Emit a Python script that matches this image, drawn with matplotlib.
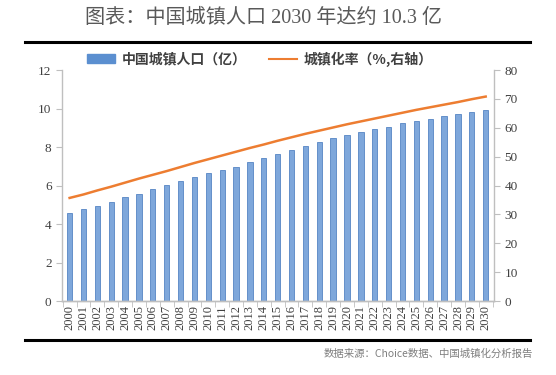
import matplotlib
matplotlib.use("Agg")
import matplotlib.pyplot as plt
from matplotlib.lines import Line2D
from matplotlib.patches import Patch
import numpy as np

# data
years = list(range(2000, 2031))
urban_pop = [4.56, 4.76, 4.95, 5.14, 5.39, 5.57, 5.80, 6.01, 6.25, 6.42,
             6.67, 6.79, 6.98, 7.22, 7.41, 7.64, 7.86, 8.05, 8.26, 8.45,
             8.62, 8.78, 8.94, 9.05, 9.25, 9.33, 9.47, 9.61, 9.71, 9.80, 9.91]
urban_rate = [35.7, 36.9, 38.3, 39.6, 41.0, 42.4, 43.7, 45.0, 46.4, 47.8,
              49.1, 50.4, 51.7, 53.0, 54.2, 55.5, 56.7, 57.9, 59.0, 60.1,
              61.2, 62.2, 63.2, 64.2, 65.2, 66.2, 67.1, 68.0, 68.9, 69.9, 70.8]
title = "图表：中国城镇人口 2030 年达约 10.3 亿"
bar_label = "中国城镇人口（亿）"
line_label = "城镇化率（%,右轴）"
source = "数据来源：Choice数据、中国城镇化分析报告"

serif = ["Liberation Serif", "Noto Sans CJK SC"]
cjk = ["Noto Sans CJK SC", "DejaVu Sans"]
gray = "#bfbfbf"
tick_c = "#404040"

fig = plt.figure(figsize=(5.56, 3.75), dpi=100)
ax = fig.add_axes([0.1115, 0.1973, 0.777, 0.616])
x = np.arange(len(years))
ax.bar(x, urban_pop, width=0.38, color="#7ea7db", edgecolor="#5585c4", linewidth=0.6, zorder=2)
ax.set_ylim(0, 12)
ax.set_yticks(range(0, 13, 2))
ax.set_xlim(-0.55, len(years) - 0.4)
ax.set_xticks(x)
ax.set_xticklabels([str(y) for y in years], rotation=90, fontsize=9, family=serif, color=tick_c)
ax.set_xticks(np.arange(-0.5, len(years), 1), minor=True)
ax.tick_params(axis="x", which="major", length=0, pad=3)
ax.tick_params(axis="x", which="minor", length=4, color=gray)
ax.tick_params(axis="y", length=4, color=gray, labelsize=9.5, labelcolor=tick_c)
for lab in ax.get_yticklabels():
    lab.set_family(serif)

ax2 = ax.twinx()
ax2.plot(x, urban_rate, color="#ed7d31", linewidth=1.8, zorder=3)
ax2.set_ylim(0, 80)
ax2.set_yticks(range(0, 81, 10))
ax2.tick_params(axis="y", length=4, color=gray, labelsize=9.5, labelcolor=tick_c)
for lab in ax2.get_yticklabels():
    lab.set_family(serif)

for a in (ax, ax2):
    a.spines["top"].set_visible(False)
    for s in ("left", "right", "bottom"):
        a.spines[s].set_color(gray)
        a.spines[s].set_linewidth(1.0)
ax.spines["right"].set_visible(False)
ax2.spines["left"].set_visible(False)

# title, rules, legend, source
fig.text(0.474, 0.950, title, ha="center", va="center", fontsize=14.5, family=serif, color="#595959")
fig.add_artist(Line2D([0.045, 0.953], [0.888, 0.888], color="black", linewidth=2.2))
fig.add_artist(Line2D([0.045, 0.953], [0.093, 0.093], color="black", linewidth=2.2))

handles = [Patch(facecolor="#5b8fd0", edgecolor="#5b8fd0"),
           Line2D([0], [0], color="#ed7d31", linewidth=1.5)]
fig.legend(handles, [bar_label, line_label], loc="center", bbox_to_anchor=(0.468, 0.843),
           ncol=2, frameon=False, prop={"family": cjk, "size": 10, "weight": "bold"},
           handlelength=2.0, handleheight=0.55, columnspacing=1.6, handletextpad=0.5,
           labelcolor="#404040")

fig.text(0.958, 0.056, source, ha="right", va="center", fontsize=7.5, family=cjk, color="#7f7f7f")

fig.savefig("out.png", dpi=100)
